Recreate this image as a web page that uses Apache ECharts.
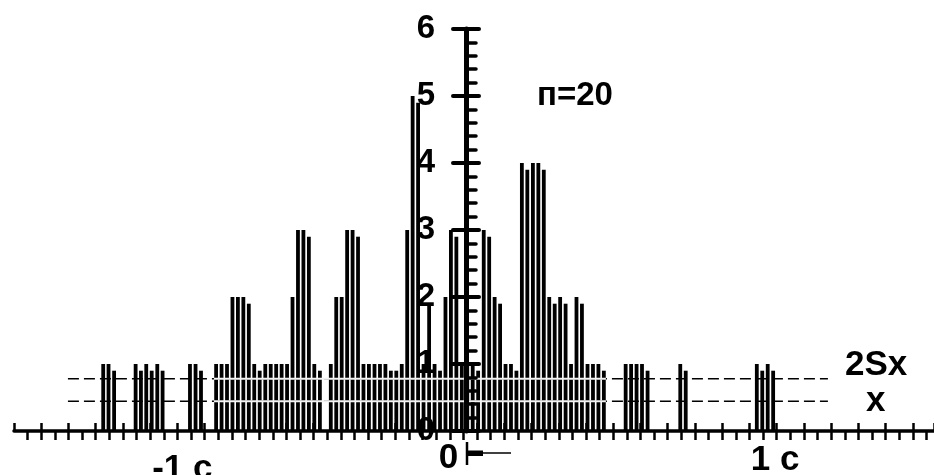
<!DOCTYPE html>
<html><head><meta charset="utf-8">
<script src="https://cdn.jsdelivr.net/npm/echarts@6/dist/echarts.min.js"></script>
<style>html,body{margin:0;padding:0;background:#fff}#c{width:934px;height:475px}</style>
</head><body><div id="c"></div>
<script>
// x positions in minor-tick units (22 units = 1 c), heights = counts
const barX = [
  -26.45, -26.06, -25.65,
  -24.07, -23.68, -23.29, -22.89, -22.48, -22.09,
  -20.08, -19.67, -19.27,
  -18.16, -17.76, -17.36, -16.96, -16.56, -16.16, -15.76, -15.36, -14.96, -14.55,
  -14.15, -13.75, -13.35, -12.95, -12.55, -12.15, -11.75, -11.35, -10.95, -10.54,
  -9.74, -9.34, -8.94, -8.54, -8.14, -7.74, -7.34, -6.94, -6.53, -6.13,
  -5.73, -5.33, -4.93, -4.53, -4.13, -3.73, -3.33, -2.93, -2.52, -2.12,
  -1.72, -1.32, -0.92, -0.52, -0.12, 0.28, 0.68, 1.08, 1.49, 1.89,
  2.29, 2.69, 3.09, 3.49, 3.89, 4.29, 4.69, 5.10, 5.50, 5.90,
  6.30, 6.70, 7.10, 7.50, 7.90, 8.30, 8.70, 9.11, 9.51, 9.91, 10.31,
  11.91, 12.31, 12.71, 13.11, 13.52,
  15.92, 16.32,
  21.54, 21.94, 22.34, 22.74
];
const barH = [
  1, 1, 0.9,
  1, 0.9, 1, 0.9, 1, 0.9,
  1, 1, 0.9,
  1, 1, 1, 2, 2, 2, 1.9, 1, 0.9, 1,
  1, 1, 1, 1, 2, 3, 3, 2.9, 1, 0.9,
  1, 2, 2, 3, 3, 2.9, 1, 1, 1, 1,
  1, 0.9, 0.9, 1, 3, 5, 4.9, 1, 1.9, 1,
  0.9, 2, 3, 2.9, 1, 1, 1, 0.9, 3, 2.9,
  2, 1.9, 1, 1, 0.9, 4, 3.9, 4, 4, 3.9,
  2, 1.9, 2, 1.9, 1, 2, 1.9, 1, 1, 1, 0.9,
  1, 1, 1, 1, 0.9,
  1, 0.9,
  1, 0.9, 1, 0.9
];
const xLabels = {'-22': '-1 c', '0': '0', '22': '1 c'};
const yTickValues = [0, 1, 2, 3, 4, 5, 6];
const sampleText = 'п=20';
const twoSxText = '2Sx';
const meanText = 'x';
const twoSxLevel = 0.78;
const meanLevel = 0.445;
const refLineSpan = [-29.04, 26.76];
const denseSpan = [-18.32, 10.46];

const FONT = '"Liberation Sans", Arial, sans-serif';
const chart = echarts.init(document.getElementById('c'), null, {renderer: 'canvas'});

const barData = barX.map((x, i) => [x, barH[i]]);
function hline(level, span) { return [[span[0], level], [span[1], level]]; }

const option = {
  animation: false,
  backgroundColor: '#fff',
  grid: {left: 14, right: 0, top: 29, bottom: 44, containLabel: false, outerBoundsMode: 'none'},
  xAxis: [
    {
      type: 'value', min: -33, max: 34.55, interval: 1,
      axisLine: {onZero: false, lineStyle: {color: '#000', width: 3.5}},
      axisTick: {length: 9, lineStyle: {color: '#000', width: 2.5}},
      splitLine: {show: false},
      axisLabel: {
        margin: 9, color: '#000', showMinLabel: false, showMaxLabel: false,
        formatter: function (v) {
          const k = String(Math.round(v));
          if (k === '-22') return '{l|' + xLabels[k] + '}';
          if (k === '22') return '{r|' + xLabels[k] + '}';
          if (k === '0') return '{z|' + xLabels[k] + '}';
          return '';
        },
        rich: {
          l: {fontFamily: FONT, fontWeight: 'bold', fontSize: 35, color: '#000', padding: [12, 0, 0, 37]},
          r: {fontFamily: FONT, fontWeight: 'bold', fontSize: 35, color: '#000', padding: [3, 0, 0, 24]},
          z: {fontFamily: FONT, fontWeight: 'bold', fontSize: 35, color: '#000', padding: [1, 30, 0, 0]}
        }
      }
    },
    {
      type: 'value', position: 'bottom', min: -34, max: 33.55, interval: 2,
      axisLine: {show: false, onZero: false},
      axisTick: {inside: true, length: 8, lineStyle: {color: '#000', width: 2.5}},
      axisLabel: {show: false}, splitLine: {show: false}
    }
  ],
  yAxis: [
    {
      type: 'value', min: 0, max: 6, interval: 1, position: 'left', offset: -452, z: 5,
      axisLine: {show: true, onZero: false, lineStyle: {color: '#000', width: 5}},
      axisTick: {show: true, length: 13, lineStyle: {color: '#000', width: 4, cap: 'round'}},
      axisLabel: {
        margin: 31, color: '#000', fontFamily: FONT, fontWeight: 'bold', fontSize: 33,
        formatter: function (v) { return yTickValues.indexOf(Math.round(v)) >= 0 ? String(Math.round(v)) : ''; }
      },
      splitLine: {show: false}
    },
    {
      type: 'value', min: 0, max: 6, interval: 1, position: 'left', offset: -452, z: 5,
      axisLine: {show: false, onZero: false},
      axisTick: {show: true, inside: true, length: 13, lineStyle: {color: '#000', width: 4, cap: 'round'}},
      minorTick: {show: true, splitNumber: 5, length: 10, lineStyle: {color: '#000', width: 3.5, cap: 'round'}},
      axisLabel: {show: false}, splitLine: {show: false}, minorSplitLine: {show: false}
    }
  ],
  series: [
    {
      type: 'line', xAxisIndex: 0, yAxisIndex: 0, z: 1, symbol: 'none', silent: true,
      data: hline(twoSxLevel, refLineSpan),
      lineStyle: {color: '#000', width: 1.5, type: [11, 5]}
    },
    {
      type: 'line', xAxisIndex: 0, yAxisIndex: 0, z: 1, symbol: 'none', silent: true,
      data: hline(meanLevel, refLineSpan),
      lineStyle: {color: '#000', width: 1.5, type: [11, 5]}
    },
    {
      type: 'bar', xAxisIndex: 0, yAxisIndex: 0, z: 2, silent: true,
      data: barData, barWidth: 3.8,
      itemStyle: {color: '#000'}
    },
    {
      type: 'line', xAxisIndex: 0, yAxisIndex: 0, z: 3, symbol: 'none', silent: true,
      data: hline(twoSxLevel, denseSpan),
      lineStyle: {color: '#f2f2f2', width: 2}
    },
    {
      type: 'line', xAxisIndex: 0, yAxisIndex: 0, z: 3, symbol: 'none', silent: true,
      data: hline(meanLevel, denseSpan),
      lineStyle: {color: '#f2f2f2', width: 2}
    }
  ],
  graphic: [
    {type: 'text', left: 537, top: 79, z: 10,
     style: {text: sampleText, font: 'bold 33px ' + FONT, fill: '#000'}},
    {type: 'text', left: 845, top: 348, z: 10,
     style: {text: twoSxText, font: 'bold 35px ' + FONT, fill: '#000'}},
    {type: 'text', left: 866, top: 384, z: 10,
     style: {text: meanText, font: 'bold 35px ' + FONT, fill: '#000'}},
    {type: 'line', z: 10, shape: {x1: 467, y1: 442, x2: 467, y2: 465}, style: {stroke: '#000', lineWidth: 2.5}},
    {type: 'rect', z: 10, shape: {x: 467, y: 450.5, width: 16, height: 5.5}, style: {fill: '#000'}},
    {type: 'line', z: 10, shape: {x1: 482, y1: 453, x2: 511, y2: 453}, style: {stroke: '#000', lineWidth: 1.5}}
  ]
};
chart.setOption(option);
</script>
</body></html>
